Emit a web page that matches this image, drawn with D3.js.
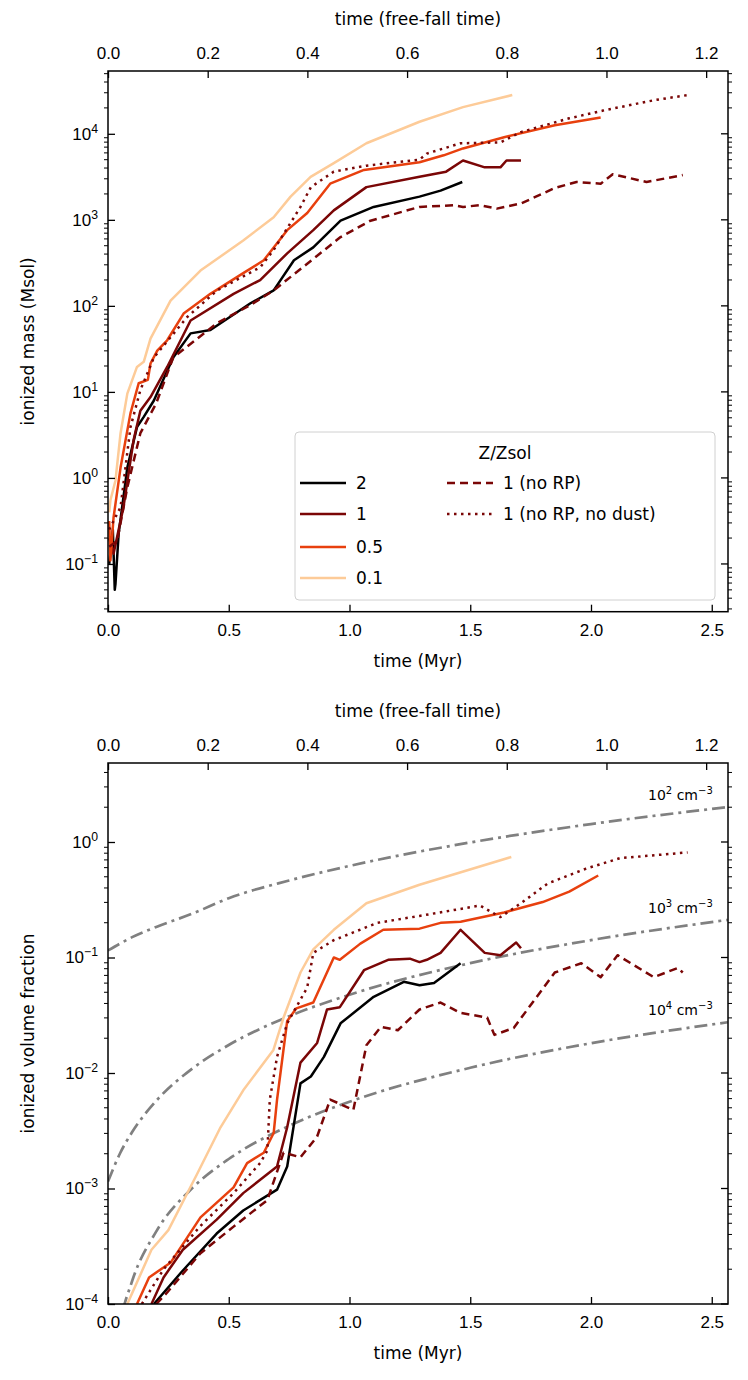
<!DOCTYPE html>
<html><head><meta charset="utf-8">
<script src="https://cdn.jsdelivr.net/npm/d3@7"></script>
<style>body{margin:0;background:#fff}svg{font-family:"DejaVu Sans",sans-serif}</style>
</head><body><svg id="c" width="748" height="1380"></svg>
<script>
// ---------- data ----------
const TFF = 2.064; // Myr per free-fall time
const xTicks = [0,0.5,1,1.5,2,2.5];
const tffTicks = [0,0.2,0.4,0.6,0.8,1.0,1.2];
const seriesNames = ["2","1","0.5","0.1","1 (no RP)","1 (no RP, no dust)"];
const seriesColors = ["#000000","#7a0606","#e8400e","#fdcb98","#7a0606","#7a0606"];
const seriesDash = [null,null,null,null,"8,5","2.5,4.5"];

// top panel: ionized mass (Msol), [time Myr, log10 mass]
const mass_2 = [[0.005,-1.0],[0.02,-0.6],[0.028,-1.3],[0.031,-1.23],[0.044,-0.65],[0.08,0.12],[0.12,0.59],[0.148,0.71],[0.19,0.9],[0.27,1.4],[0.342,1.68],[0.424,1.72],[0.59,2.03],[0.686,2.18],[0.77,2.53],[0.85,2.68],[0.963,2.99],[1.1,3.15],[1.29,3.27],[1.377,3.34],[1.467,3.44]];
const mass_1 = [[0.005,-0.7],[0.023,-0.88],[0.064,-0.34],[0.106,0.44],[0.134,0.78],[0.176,0.94],[0.245,1.29],[0.342,1.83],[0.52,2.14],[0.63,2.3],[0.742,2.61],[0.85,2.88],[0.935,3.11],[1.07,3.38],[1.29,3.5],[1.4,3.56],[1.47,3.69],[1.56,3.61],[1.625,3.61],[1.65,3.69],[1.71,3.69]];
const mass_05 = [[0.005,-0.5],[0.01,-0.96],[0.023,-0.46],[0.052,0.12],[0.093,0.75],[0.127,1.1],[0.165,1.14],[0.176,1.33],[0.204,1.48],[0.245,1.6],[0.313,1.91],[0.424,2.14],[0.56,2.38],[0.645,2.53],[0.742,2.88],[0.825,3.08],[0.92,3.42],[1.06,3.58],[1.29,3.67],[1.39,3.75],[1.47,3.83],[1.64,3.96],[1.85,4.1],[2.04,4.19]];
const mass_01 = [[0.005,-0.4],[0.01,-0.26],[0.031,-0.03],[0.052,0.52],[0.08,0.98],[0.12,1.29],[0.148,1.35],[0.176,1.62],[0.259,2.06],[0.383,2.41],[0.56,2.76],[0.686,3.03],[0.756,3.27],[0.839,3.5],[0.935,3.66],[1.07,3.89],[1.29,4.14],[1.47,4.31],[1.674,4.45]];
const mass_noRP = [[0.005,-0.8],[0.038,-0.73],[0.08,-0.11],[0.134,0.52],[0.2,0.87],[0.27,1.4],[0.452,1.8],[0.59,2.01],[0.686,2.18],[0.825,2.49],[0.963,2.8],[1.087,2.99],[1.29,3.15],[1.43,3.17],[1.47,3.15],[1.54,3.17],[1.61,3.13],[1.71,3.19],[1.85,3.37],[1.94,3.44],[2.04,3.42],[2.09,3.53],[2.23,3.44],[2.38,3.52]];
const mass_noRPnoDust = [[0.005,-0.6],[0.052,-0.34],[0.093,0.59],[0.134,1.02],[0.19,1.4],[0.328,1.87],[0.452,2.18],[0.631,2.45],[0.686,2.65],[0.797,3.15],[0.84,3.38],[0.935,3.56],[1.07,3.63],[1.29,3.7],[1.32,3.77],[1.46,3.89],[1.625,3.9],[1.71,4.02],[1.91,4.18],[2.05,4.27],[2.26,4.39],[2.4,4.45]];

// bottom panel: ionized volume fraction, [time Myr, log10 fraction]
const vol_2 = [[0.19,-4.0],[0.31,-3.71],[0.45,-3.39],[0.56,-3.19],[0.7,-3.01],[0.742,-2.81],[0.797,-2.09],[0.84,-2.03],[0.894,-1.86],[0.963,-1.57],[1.1,-1.34],[1.225,-1.21],[1.29,-1.24],[1.35,-1.22],[1.46,-1.05]];
const vol_1 = [[0.18,-4.0],[0.23,-3.77],[0.31,-3.53],[0.45,-3.27],[0.56,-3.04],[0.7,-2.81],[0.742,-2.47],[0.797,-1.91],[0.866,-1.74],[0.907,-1.45],[0.96,-1.43],[1.06,-1.11],[1.16,-1.02],[1.25,-1.01],[1.29,-1.04],[1.32,-1.02],[1.377,-0.96],[1.46,-0.76],[1.56,-0.96],[1.625,-0.98],[1.69,-0.87],[1.71,-0.92]];
const vol_05 = [[0.12,-4.0],[0.17,-3.77],[0.26,-3.64],[0.383,-3.25],[0.52,-2.99],[0.576,-2.78],[0.645,-2.69],[0.686,-2.52],[0.7,-2.23],[0.742,-1.55],[0.78,-1.44],[0.85,-1.39],[0.935,-1.0],[0.96,-1.02],[1.045,-0.88],[1.14,-0.76],[1.29,-0.75],[1.377,-0.7],[1.46,-0.69],[1.64,-0.61],[1.8,-0.52],[1.91,-0.43],[2.03,-0.29]];
const vol_01 = [[0.08,-4.0],[0.18,-3.53],[0.25,-3.36],[0.37,-2.87],[0.466,-2.47],[0.56,-2.15],[0.685,-1.8],[0.727,-1.52],[0.797,-1.13],[0.85,-0.93],[0.935,-0.76],[1.07,-0.53],[1.29,-0.37],[1.67,-0.13]];
const vol_noRP = [[0.2,-4.0],[0.245,-3.9],[0.383,-3.56],[0.52,-3.33],[0.66,-3.1],[0.727,-2.69],[0.797,-2.73],[0.866,-2.55],[0.92,-2.23],[1.016,-2.32],[1.07,-1.76],[1.13,-1.6],[1.2,-1.63],[1.29,-1.45],[1.377,-1.39],[1.46,-1.48],[1.57,-1.52],[1.6,-1.67],[1.68,-1.61],[1.85,-1.13],[1.96,-1.05],[2.04,-1.17],[2.11,-0.98],[2.26,-1.17],[2.36,-1.09],[2.38,-1.13]];
const vol_noRPnoDust = [[0.14,-4.0],[0.23,-3.7],[0.38,-3.33],[0.52,-3.04],[0.63,-2.78],[0.66,-2.67],[0.67,-2.23],[0.7,-1.86],[0.742,-1.57],[0.825,-1.26],[0.85,-0.96],[0.935,-0.85],[1.115,-0.7],[1.29,-0.64],[1.43,-0.59],[1.54,-0.55],[1.625,-0.65],[1.71,-0.53],[1.82,-0.36],[1.98,-0.23],[2.12,-0.14],[2.4,-0.09]];

// reference dash-dot curves
const refTimes = [0,0.05,0.1,0.2,0.35,0.5,0.75,1.0,1.5,2.0,2.566];
const ref_n2 = [0.115,0.132,0.150,0.184,0.240,0.326,0.464,0.621,0.991,1.43,2.006];
const ref_n3 = [0.00115,0.00202,0.00308,0.00575,0.01095,0.01747,0.0310,0.0476,0.0893,0.1413,0.2116];
const ref_n4 = [0.0000115,0.0000674,0.000158,0.000425,0.001013,0.00180,0.00349,0.00564,0.0111,0.0181,0.0275];
const refExp = ["2","3","4"];

// ---------- drawing ----------
const svg = d3.select("#c");
const L = 108, R = 728;
const x = d3.scaleLinear().domain([0, (R-L)/241.5]).range([L, R]);
const xt = d3.scaleLinear().domain([0, (R-L)/241.5/TFF]).range([L, R]);

function sup(sel, base, exp, fs){
  sel.text(null);
  sel.append("tspan").text(base);
  sel.append("tspan").attr("dy",-fs*0.42).attr("font-size",fs*0.72).text(exp);
}

function panel(top, bottom, yDomain, ylabel, id){
  const y = d3.scaleLog().domain(yDomain).range([bottom, top]);
  const g = svg.append("g");
  g.append("clipPath").attr("id",id).append("rect").attr("x",L).attr("y",top).attr("width",R-L).attr("height",bottom-top);
  const plot = g.append("g").attr("clip-path",`url(#${id})`);
  const tickStyle = a => { a.selectAll("text").attr("font-size",17).attr("fill","#000"); a.selectAll("line").attr("stroke","#000").attr("stroke-width",1.3); a.select(".domain").remove(); };
  const bx = g.append("g").attr("transform",`translate(0,${bottom})`).call(d3.axisBottom(x).tickValues(xTicks).tickFormat(d3.format(".1f")).tickSizeInner(-7).tickPadding(12));
  tickStyle(bx);
  const tx = g.append("g").attr("transform",`translate(0,${top})`).call(d3.axisTop(xt).tickValues(tffTicks).tickFormat(d3.format(".1f")).tickSizeInner(-7).tickPadding(12));
  tickStyle(tx);
  const lo = Math.floor(Math.log10(yDomain[0])), hi = Math.ceil(Math.log10(yDomain[1]));
  const majors = d3.range(lo, hi+1).map(e=>Math.pow(10,e)).filter(v=>v>=yDomain[0]*0.999 && v<=yDomain[1]);
  const minors = [];
  for(let e=lo;e<=hi;e++) for(let k=2;k<10;k++){const v=k*Math.pow(10,e); if(v>yDomain[0]&&v<yDomain[1]) minors.push(v);}
  const ly = g.append("g").attr("transform",`translate(${L},0)`).call(d3.axisLeft(y).tickValues(majors).tickSizeInner(-7).tickPadding(10));
  tickStyle(ly);
  ly.selectAll(".tick text").each(function(d){
    const e = Math.round(Math.log10(d));
    sup(d3.select(this), "10", e<0 ? "−"+(-e) : String(e), 17);
  });
  [[L,-4],[R,4]].forEach(([px,s])=>{
    g.selectAll(null).data(minors).enter().append("line").attr("x1",px).attr("x2",px+s).attr("y1",d=>y(d)).attr("y2",d=>y(d)).attr("stroke","#000").attr("stroke-width",1);
    if(px===R) g.selectAll(null).data(majors).enter().append("line").attr("x1",px).attr("x2",px-7).attr("y1",d=>y(d)).attr("y2",d=>y(d)).attr("stroke","#000").attr("stroke-width",1.3);
  });
  g.append("rect").attr("x",L).attr("y",top).attr("width",R-L).attr("height",bottom-top).attr("fill","none").attr("stroke","#000").attr("stroke-width",1.5);
  g.append("text").attr("x",(L+R)/2).attr("y",bottom+55).attr("text-anchor","middle").attr("font-size",17).text("time (Myr)");
  g.append("text").attr("x",(L+R)/2).attr("y",top-46).attr("text-anchor","middle").attr("font-size",17).text("time (free-fall time)");
  g.append("text").attr("transform",`translate(34,${(top+bottom)/2}) rotate(-90)`).attr("text-anchor","middle").attr("font-size",17).text(ylabel);
  return {y, plot, g};
}

function drawSeries(P, data){
  const line = d3.line().x(d=>x(d[0])).y(d=>P.y(Math.pow(10,d[1])));
  data.forEach((d,i)=>{
    P.plot.append("path").datum(d).attr("d",line).attr("fill","none")
      .attr("stroke",seriesColors[i]).attr("stroke-width",2.5)
      .attr("stroke-dasharray",seriesDash[i]).attr("stroke-linejoin","round");
  });
}

// Top panel
const P1 = panel(71, 611.7, [Math.pow(10,-1.555), Math.pow(10,4.73)], "ionized mass (Msol)", "c1");
drawSeries(P1, [mass_2, mass_1, mass_05, mass_01, mass_noRP, mass_noRPnoDust]);

// legend
const lg = P1.g.append("g");
lg.append("rect").attr("x",295).attr("y",432).attr("width",420).attr("height",168).attr("rx",4).attr("fill","#fff").attr("fill-opacity",0.85).attr("stroke","#d0d0d0");
lg.append("text").attr("x",505).attr("y",459).attr("text-anchor","middle").attr("font-size",17).text("Z/Zsol");
const legPos = [[300,483],[300,514],[300,547],[300,578],[447,483],[447,514]];
seriesNames.forEach((n,i)=>{
  const [lx,lyy] = legPos[i];
  lg.append("line").attr("x1",lx).attr("x2",lx+46).attr("y1",lyy).attr("y2",lyy).attr("stroke",seriesColors[i]).attr("stroke-width",2.5).attr("stroke-dasharray",seriesDash[i]);
  lg.append("text").attr("x",lx+56).attr("y",lyy+6).attr("font-size",17).text(n);
});

// Bottom panel
const P2 = panel(763, 1304, [1e-4, Math.pow(10,0.684)], "ionized volume fraction", "c2");
const refLine = d3.line().x((d,i)=>x(refTimes[i])).y(d=>P2.y(d)).curve(d3.curveMonotoneX);
[ref_n2, ref_n3, ref_n4].forEach(r=>{
  P2.plot.append("path").datum(r).attr("d",refLine).attr("fill","none").attr("stroke","#808080").attr("stroke-width",2.7).attr("stroke-dasharray","13,5,3,5");
});
[800,913,1015].forEach((yy,i)=>{
  const t = P2.plot.append("text").attr("x",648).attr("y",yy).attr("font-size",14);
  t.append("tspan").text("10");
  t.append("tspan").attr("dy",-6).attr("font-size",10).text(refExp[i]);
  t.append("tspan").attr("dy",6).text(" cm");
  t.append("tspan").attr("dy",-6).attr("font-size",10).text("−3");
});
drawSeries(P2, [vol_2, vol_1, vol_05, vol_01, vol_noRP, vol_noRPnoDust]);
</script></body></html>
